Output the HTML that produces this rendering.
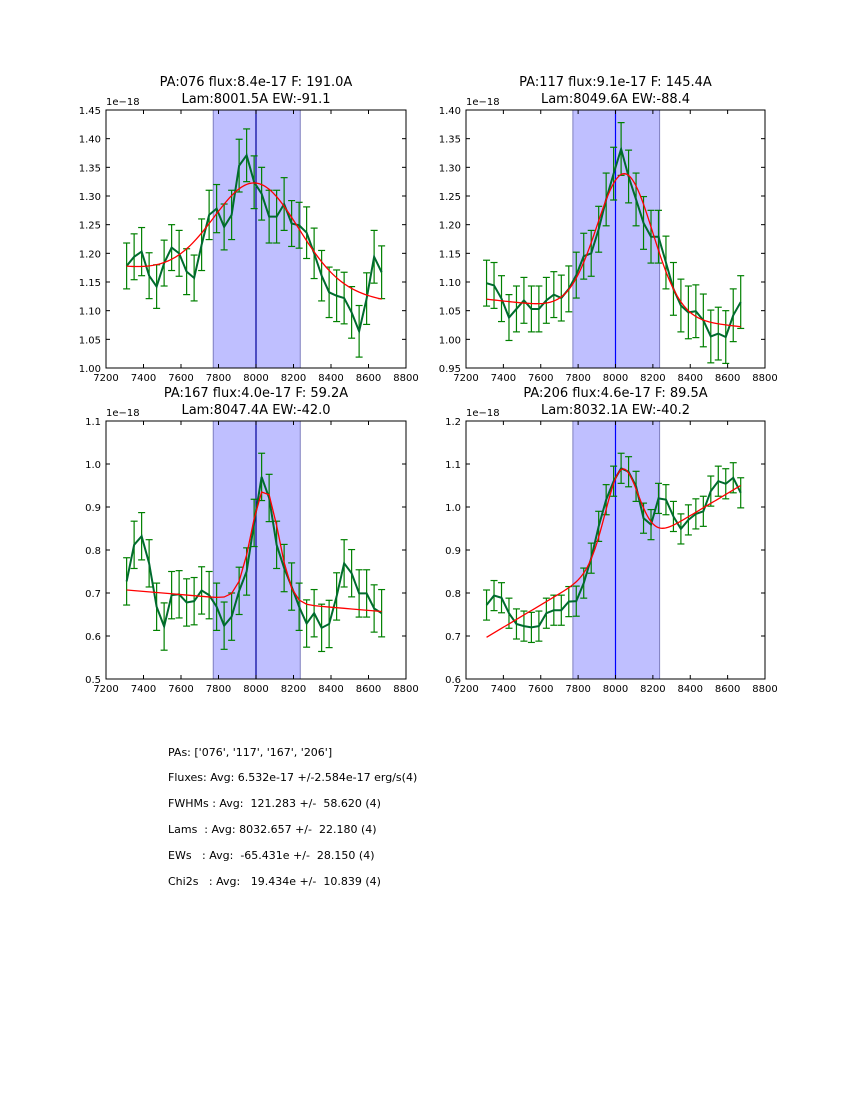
<!DOCTYPE html>
<html><head><meta charset="utf-8"><style>
body{margin:0;background:#fff;}
svg{display:block;font-family:"DejaVu Sans","Liberation Sans",sans-serif;}
.pre{white-space:pre;}
</style></head><body>
<svg id="fig" width="850" height="1100" viewBox="0 0 850 1100">
<rect width="850" height="1100" fill="#fff"/>
<g id="plots"></g>
<g font-size="11" fill="#000" class="pre" xml:space="preserve">
<text x="168" y="756" class="pre">PAs: ['076', '117', '167', '206']</text>
<text x="168" y="781" class="pre">Fluxes: Avg: 6.532e-17 +/-2.584e-17 erg/s(4)</text>
<text x="168" y="807" class="pre">FWHMs : Avg:  121.283 +/-  58.620 (4)</text>
<text x="168" y="833" class="pre">Lams  : Avg: 8032.657 +/-  22.180 (4)</text>
<text x="168" y="859" class="pre">EWs   : Avg:  -65.431e +/-  28.150 (4)</text>
<text x="168" y="885" class="pre">Chi2s   : Avg:   19.434e +/-  10.839 (4)</text>
</g>
</svg>
<script>
// wavelengths (shared)
const waves = [7310,7350,7390,7430,7470,7510,7550,7590,7630,7670,7710,7750,7790,7830,7870,7910,7950,7990,8030,8070,8110,8150,8190,8230,8270,8310,8350,8390,8430,8470,8510,8550,8590,8630,8670];
const xTicks = [7200,7400,7600,7800,8000,8200,8400,8600,8800];
// panel titles
const titles1 = ["PA:076 flux:8.4e-17 F: 191.0A","PA:117 flux:9.1e-17 F: 145.4A","PA:167 flux:4.0e-17 F: 59.2A","PA:206 flux:4.6e-17 F: 89.5A"];
const titles2 = ["Lam:8001.5A EW:-91.1","Lam:8049.6A EW:-88.4","Lam:8047.4A EW:-42.0","Lam:8032.1A EW:-40.2"];
// flux series (units 1e-18)
const flux076 = [1.178,1.194,1.203,1.161,1.142,1.183,1.210,1.200,1.168,1.157,1.215,1.267,1.278,1.246,1.267,1.353,1.371,1.324,1.304,1.264,1.264,1.286,1.252,1.249,1.236,1.200,1.161,1.132,1.126,1.122,1.097,1.064,1.121,1.194,1.167];
const flux117 = [1.098,1.094,1.071,1.038,1.053,1.068,1.053,1.053,1.068,1.078,1.072,1.088,1.112,1.145,1.150,1.192,1.244,1.289,1.332,1.284,1.244,1.203,1.179,1.179,1.134,1.088,1.059,1.047,1.049,1.033,1.005,1.010,1.004,1.042,1.065];
const flux167 = [0.727,0.812,0.832,0.769,0.668,0.622,0.695,0.697,0.678,0.681,0.706,0.695,0.668,0.624,0.645,0.705,0.750,0.863,0.970,0.921,0.812,0.758,0.715,0.668,0.629,0.653,0.619,0.628,0.692,0.769,0.746,0.699,0.699,0.664,0.653];
const flux206 = [0.772,0.794,0.789,0.753,0.728,0.723,0.720,0.723,0.753,0.760,0.760,0.780,0.781,0.823,0.881,0.955,1.017,1.060,1.090,1.082,1.048,0.974,0.959,1.020,1.017,0.978,0.949,0.970,0.984,0.990,1.037,1.060,1.054,1.068,1.033];
// error bars (half widths)
const err076 = [0.040,0.040,0.042,0.040,0.038,0.040,0.040,0.040,0.040,0.040,0.045,0.043,0.042,0.040,0.043,0.046,0.046,0.046,0.046,0.046,0.046,0.046,0.040,0.040,0.045,0.044,0.044,0.044,0.045,0.045,0.045,0.045,0.045,0.046,0.046];
const err117 = [0.040,0.040,0.040,0.040,0.040,0.040,0.040,0.040,0.040,0.040,0.040,0.040,0.040,0.040,0.040,0.040,0.046,0.046,0.046,0.046,0.046,0.046,0.046,0.046,0.046,0.046,0.046,0.046,0.046,0.046,0.046,0.046,0.046,0.046,0.046];
const err167 = [0.055,0.055,0.055,0.055,0.055,0.055,0.055,0.055,0.055,0.055,0.055,0.055,0.055,0.055,0.055,0.055,0.055,0.055,0.055,0.055,0.055,0.055,0.055,0.055,0.055,0.055,0.055,0.055,0.055,0.055,0.055,0.055,0.055,0.055,0.055];
const err206 = [0.035,0.035,0.035,0.035,0.035,0.035,0.035,0.035,0.035,0.035,0.035,0.035,0.035,0.035,0.035,0.035,0.035,0.035,0.035,0.035,0.035,0.035,0.035,0.035,0.035,0.035,0.035,0.035,0.035,0.035,0.035,0.035,0.035,0.035,0.035];
// fit parameters: continuum at 7310, continuum at 8670, amplitude, center, sigma
const fitCont0 = [1.176,1.070,0.707,0.697];
const fitCont1 = [1.118,1.022,0.657,1.050];
const fitAmp = [0.176,0.245,0.262,0.203];
const fitCenter = [8001.5,8049.6,8047.4,8032.1];
const fitSigma = [226,149,72,88];
// y axis ranges & ticks
const yMins = [1.00,0.95,0.5,0.6];
const yMaxs = [1.45,1.40,1.1,1.2];
const yStep = [0.05,0.05,0.1,0.1];
const yDec = [2,2,1,1];
const bandLo = 7772, bandHi = 8236, markerLine = 8000;

const fluxes=[flux076,flux117,flux167,flux206], errs=[err076,err117,err167,err206];
const boxes=[[106,110,300,258],[466,110,299,258],[106,421,300,258],[466,421,299,258]];
const lineCols=["#000099","#0000ff","#000099","#0000ff"];
const NS="http://www.w3.org/2000/svg";
const root=document.getElementById('plots');
function mk(t,a,p){const e=document.createElementNS(NS,t);for(const k in a)e.setAttribute(k,a[k]);(p||root).appendChild(e);return e;}

for(let p=0;p<4;p++){
  const [bx,by,bw,bh]=boxes[p];
  const g=mk('g',{});
  
  
  const X=v=>bx+(v-7200)/1600*bw;
  const Y=v=>by+bh-(v-yMins[p])/(yMaxs[p]-yMins[p])*bh;
  const band=mk('rect',{x:X(bandLo),y:by,width:X(bandHi)-X(bandLo),height:bh,fill:"#bfbfff",stroke:"#7f7fbf","stroke-width":1},g);
  
  
  const vl=mk('line',{x1:X(markerLine),x2:X(markerLine),y1:by,y2:by+bh,stroke:lineCols[p],"stroke-width":1.2},g);
  
  
  const eg=mk('g',{stroke:"#008000","stroke-width":1.2,fill:"none"},g);
  
  
  for(let i=0;i<waves.length;i++){
    const x=X(waves[i]),y1=Y(fluxes[p][i]+errs[p][i]),y2=Y(fluxes[p][i]-errs[p][i]);
    mk('line',{x1:x,x2:x,y1:y1,y2:y2},eg);
    mk('line',{x1:x-3.5,x2:x+3.5,y1:y1,y2:y1},eg);
    mk('line',{x1:x-3.5,x2:x+3.5,y1:y2,y2:y2},eg);
  }
  const dl=mk('polyline',{points:waves.map((w,i)=>X(w)+','+Y(fluxes[p][i])).join(' '),fill:"none",stroke:"#006b2e","stroke-width":2},g);
  
  
  const fit=w=>fitCont0[p]+(fitCont1[p]-fitCont0[p])*(w-7310)/1360+fitAmp[p]*Math.exp(-Math.pow(w-fitCenter[p],2)/(2*fitSigma[p]*fitSigma[p]));
  const pts=[];
  if(p===2){for(const w of waves)pts.push(X(w)+','+Y(fit(w)));}
  else{for(let w=7310;w<=8670;w+=10)pts.push(X(w)+','+Y(fit(w)));}
  const fl=mk('polyline',{points:pts.join(' '),fill:"none",stroke:"#ff0000","stroke-width":1.3},g);
  
  
  mk('rect',{x:bx,y:by,width:bw,height:bh,fill:"none",stroke:"#000","stroke-width":1},g);
  for(const t of xTicks){
    const x=X(t);
    mk('line',{x1:x,x2:x,y1:by+bh,y2:by+bh-4,stroke:"#000"},g);
    mk('line',{x1:x,x2:x,y1:by,y2:by+4,stroke:"#000"},g);
    const tx=mk('text',{x:x,y:by+bh+13,"font-size":10,"text-anchor":"middle"},g);tx.textContent=t;
    
    
  }
  const n=Math.round((yMaxs[p]-yMins[p])/yStep[p]);
  for(let k=0;k<=n;k++){
    const v=yMins[p]+k*yStep[p],y=Y(v);
    mk('line',{x1:bx,x2:bx+4,y1:y,y2:y,stroke:"#000"},g);
    mk('line',{x1:bx+bw,x2:bx+bw-4,y1:y,y2:y,stroke:"#000"},g);
    const ty=mk('text',{x:bx-5,y:y+4,"font-size":10,"text-anchor":"end"},g);ty.textContent=v.toFixed(yDec[p]);
    
    
  }
  const off=mk('text',{x:bx,y:by-5,"font-size":10},g);off.textContent="1e\u221218";
  
  
  const t1=mk('text',{x:bx+bw/2,y:by-24,"font-size":13,"text-anchor":"middle"},g);t1.textContent=titles1[p];
  
  
  const t2=mk('text',{x:bx+bw/2,y:by-7,"font-size":13,"text-anchor":"middle"},g);t2.textContent=titles2[p];
  
  
}
</script>
</body></html>
